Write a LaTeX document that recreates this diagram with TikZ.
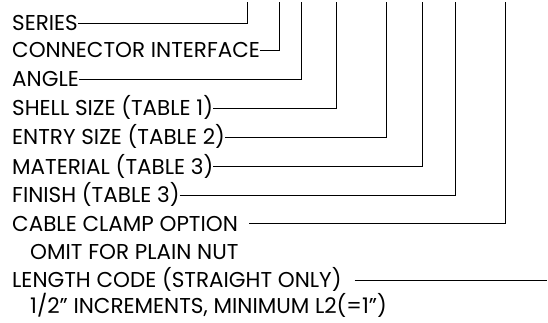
\documentclass[tikz,border=0pt]{standalone}
\usepackage{fontspec}
\setmainfont{Poppins}
\usetikzlibrary{calc}

\begin{document}
\begin{tikzpicture}[x=1pt, y=-1pt]
	\def \lx {12}
	\def \ix {30}
	\def \ytop {2}

	\tikzset{
		field/.style={anchor=west, inner sep=0pt, text height=15pt, text depth=0pt,
			font=\fontsize{21.5}{24}\selectfont},
		lead/.style={line width=1pt}
	}

	\useasboundingbox (0,0) rectangle (548,322);

	\node[field] (series)   at (\lx, 23)    {SERIES};
	\node[field] (iface)    at (\lx, 50)    {CONNECTOR INTERFACE};
	\node[field] (angle)    at (\lx, 79)    {ANGLE};
	\node[field] (shell)    at (\lx, 108)   {SHELL SIZE (TABLE 1)};
	\node[field] (entry)    at (\lx, 137)   {ENTRY SIZE (TABLE 2)};
	\node[field] (material) at (\lx, 166.5) {MATERIAL (TABLE 3)};
	\node[field] (finish)   at (\lx, 195)   {FINISH (TABLE 3)};
	\node[field] (clamp)    at (\lx, 223.5) {CABLE CLAMP OPTION};
	\node[field] (omit)     at (\ix, 252)   {OMIT FOR PLAIN NUT};
	\node[field] (length)   at (\lx, 280)   {LENGTH CODE (STRAIGHT ONLY)};
	\node[field] (incr)     at (\ix, 306)   {1/2" INCREMENTS, MINIMUM L2(=1")};

	% tops of the leaders
	\coordinate (tseries)   at (247, \ytop);
	\coordinate (tiface)    at (279, \ytop);
	\coordinate (tangle)    at (301.5, \ytop);
	\coordinate (tshell)    at (336.5, \ytop);
	\coordinate (tentry)    at (386.5, \ytop);
	\coordinate (tmaterial) at (422.5, \ytop);
	\coordinate (tfinish)   at (455, \ytop);
	\coordinate (tclamp)    at (505, \ytop);
	\coordinate (lend)      at (547, 280);

	\draw[lead] (series.east)   -| (tseries);
	\draw[lead] (iface.east)    -| (tiface);
	\draw[lead] (angle.east)    -| (tangle);
	\draw[lead] (shell.east)    -| (tshell);
	\draw[lead] (entry.east)    -| (tentry);
	\draw[lead] (material.east) -| (tmaterial);
	\draw[lead] (finish.east)   -| (tfinish);
	\draw[lead] ([xshift=11pt]clamp.east) -| (tclamp);
	\draw[lead] ([xshift=13pt]length.east) -- (lend);
\end{tikzpicture}
\end{document}
